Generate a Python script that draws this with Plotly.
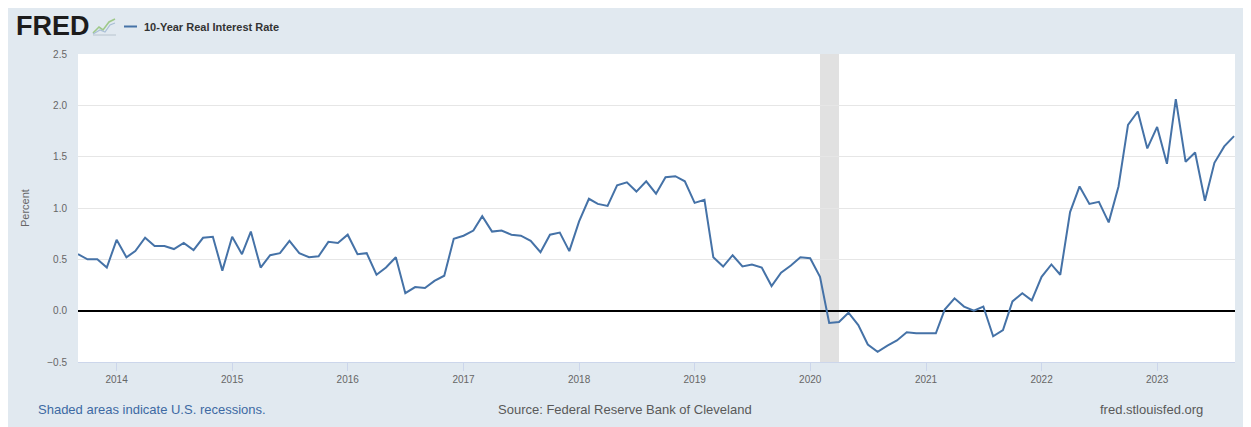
import pandas as pd
import plotly.graph_objects as go

# ---- data ----
start_month = "2013-09-01"
real_rate = [
    0.55, 0.50, 0.50, 0.42, 0.69, 0.52, 0.58, 0.71, 0.63, 0.63, 0.60, 0.66,
    0.59, 0.71, 0.72, 0.39, 0.72, 0.55, 0.77, 0.42, 0.54, 0.56, 0.68, 0.56,
    0.52, 0.53, 0.67, 0.66, 0.74, 0.55, 0.56, 0.35, 0.42, 0.52, 0.17, 0.23,
    0.22, 0.29, 0.34, 0.70, 0.73, 0.78, 0.92, 0.77, 0.78, 0.74, 0.73, 0.68,
    0.57, 0.74, 0.76, 0.58, 0.87, 1.09, 1.04, 1.02, 1.22, 1.25, 1.16, 1.26,
    1.14, 1.30, 1.31, 1.26, 1.05, 1.08, 0.52, 0.43, 0.54, 0.43, 0.45, 0.42,
    0.24, 0.37, 0.44, 0.52, 0.51, 0.33, -0.12, -0.11, -0.02, -0.14, -0.33, -0.40,
    -0.34, -0.29, -0.21, -0.22, -0.22, -0.22, 0.01, 0.12, 0.04, 0.00, 0.04, -0.25,
    -0.19, 0.09, 0.17, 0.10, 0.33, 0.45, 0.35, 0.96, 1.21, 1.04, 1.06, 0.86,
    1.21, 1.81, 1.94, 1.58, 1.79, 1.43, 2.06, 1.45, 1.54, 1.07, 1.44, 1.60,
    1.70,
]
dates = pd.date_range(start_month, periods=len(real_rate), freq="MS")

year_ticks = ["2014", "2015", "2016", "2017", "2018", "2019", "2020", "2021", "2022", "2023"]
y_ticks = [-0.5, 0.0, 0.5, 1.0, 1.5, 2.0, 2.5]
recession_start = ["2020-02-01"]
recession_end = ["2020-04-01"]

series_name = "10-Year Real Interest Rate"
y_title = "Percent"
footer_left = "Shaded areas indicate U.S. recessions."
footer_mid = "Source: Federal Reserve Bank of Cleveland"
footer_right = "fred.stlouisfed.org"

# ---- layout geometry (page pixels; page body has an 8px margin) ----
OFF = 8
W, H = 1251 - OFF, 427 - OFF
L, R, T, B = 78, 1235, 54, 362          # plot area in page coordinates
PW, PH = R - L, B - T


def px(x):
    return (x - L) / PW


def py(y):
    return (B - y) / PH


FONT = "Liberation Sans, Arial, sans-serif"
LINE_COLOR = "#4572a7"

fig = go.Figure()
fig.add_trace(go.Scatter(
    x=dates, y=real_rate, mode="lines",
    line=dict(color=LINE_COLOR, width=2),
    name=series_name, showlegend=False,
))

shapes = []
for s, e in zip(recession_start, recession_end):
    shapes.append(dict(type="rect", xref="x", yref="paper", x0=s, x1=e, y0=0, y1=1,
                       fillcolor="#e1e1e1", line=dict(width=0), layer="below"))

# legend swatch line
shapes.append(dict(type="line", xref="paper", yref="paper",
                   x0=px(124), x1=px(137), y0=py(26.5), y1=py(26.5),
                   line=dict(color=LINE_COLOR, width=2)))
# small FRED chart icon
shapes.append(dict(type="path", xref="paper", yref="paper",
                   path=f"M {px(93)},{py(33)} L {px(99)},{py(27)} L {px(103)},{py(30)} L {px(109)},{py(22)} L {px(115)},{py(19)}",
                   line=dict(color="#9fc98a", width=1.6)))
shapes.append(dict(type="path", xref="paper", yref="paper",
                   path=f"M {px(93)},{py(34)} L {px(100)},{py(30)} L {px(105)},{py(32)} L {px(110)},{py(25)} L {px(115)},{py(23)}",
                   line=dict(color="#a9bfd6", width=1.2)))
shapes.append(dict(type="path", xref="paper", yref="paper",
                   path=f"M {px(93)},{py(35)} L {px(116)},{py(35)}",
                   line=dict(color="#b8c4ce", width=1)))

annotations = [
    dict(text="<b>FRED</b>", x=px(14), y=py(26), xref="paper", yref="paper",
         xanchor="left", yanchor="middle", showarrow=False,
         font=dict(family=FONT, size=27, color="#1c1c1c")),
    dict(text=f"<b>{series_name}</b>", x=px(142), y=py(26.5), xref="paper", yref="paper",
         xanchor="left", yanchor="middle", showarrow=False,
         font=dict(family=FONT, size=11, color="#333333")),
    dict(text=y_title, x=px(25), y=0.5, xref="paper", yref="paper", textangle=-90,
         xanchor="center", yanchor="middle", showarrow=False,
         font=dict(family=FONT, size=11, color="#666666")),
    dict(text=footer_left, x=px(36), y=py(409), xref="paper", yref="paper",
         xanchor="left", yanchor="middle", showarrow=False,
         font=dict(family=FONT, size=13, color="#3d69a3")),
    dict(text=footer_mid, x=px(625), y=py(409), xref="paper", yref="paper",
         xanchor="center", yanchor="middle", showarrow=False,
         font=dict(family=FONT, size=13, color="#595959")),
    dict(text=footer_right, x=px(1205), y=py(409), xref="paper", yref="paper",
         xanchor="right", yanchor="middle", showarrow=False,
         font=dict(family=FONT, size=13, color="#595959")),
]

fig.update_layout(
    width=W, height=H,
    margin=dict(l=L - OFF, r=(W + OFF) - R, t=T - OFF, b=(H + OFF) - B, autoexpand=False),
    paper_bgcolor="#e1e9f0",
    plot_bgcolor="#ffffff",
    showlegend=False,
    shapes=shapes,
    annotations=annotations,
    font=dict(family=FONT, color="#666666"),
    xaxis=dict(
        type="date",
        range=[start_month, "2023-09-04"],
        tickvals=[f"{y}-01-01" for y in year_ticks],
        ticktext=year_ticks,
        ticks="outside", ticklen=8, tickcolor="#ccd6eb", tickwidth=1,
        showline=True, linecolor="#ccd6eb", linewidth=1,
        showgrid=False, zeroline=False,
        tickfont=dict(family=FONT, size=10, color="#666666"),
    ),
    yaxis=dict(
        range=[-0.5, 2.5],
        tickvals=y_ticks,
        tickformat=".1f",
        showgrid=True, gridcolor="#e6e6e6", gridwidth=1,
        zeroline=True, zerolinecolor="#000000", zerolinewidth=2,
        showline=False, ticks="",
        ticklabelstandoff=10,
        tickfont=dict(family=FONT, size=10, color="#666666"),
    ),
)

fig.write_html("out.html")
